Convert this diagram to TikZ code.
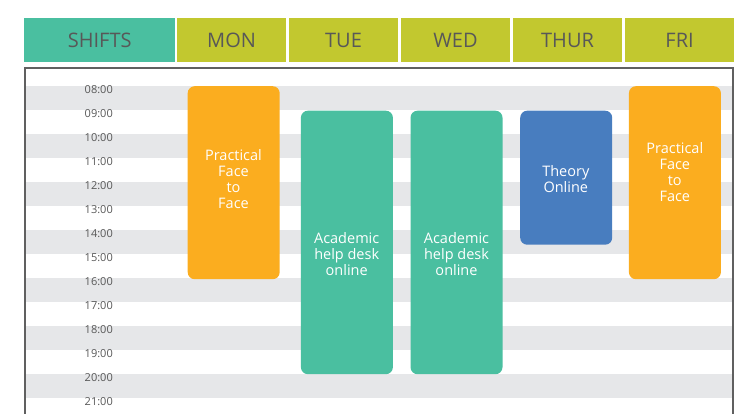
\documentclass[tikz,border=0pt]{standalone}
\usepackage{fontspec}
\setmainfont{Open Sans}
\definecolor{teal}{HTML}{4ABFA0}
\definecolor{lime}{HTML}{C2C82F}
\definecolor{orng}{HTML}{FBAD1F}
\definecolor{blu}{HTML}{487DBF}
\definecolor{band}{HTML}{E6E7E9}
\definecolor{txt}{HTML}{585858}
\definecolor{frame}{HTML}{606060}
\tikzset{
  hdr/.style={anchor=north west, inner sep=0pt, minimum height=44pt, text=txt, font=\fontsize{20}{22}\selectfont},
  evt/.style={anchor=north west, inner sep=0pt, rounded corners=7pt, draw=none, minimum width=92pt},
  evtxt/.style={align=center, text=white, inner sep=0pt, font=\fontsize{14.5}{16}\selectfont},
  tlab/.style={anchor=east, inner sep=0pt, text=txt, font=\fontsize{11}{12}\selectfont},
}
\begin{document}
\begin{tikzpicture}[x=1pt,y=-1pt]
\useasboundingbox (0,0) rectangle (746,413);
% header
\node[hdr, fill=teal, minimum width=151pt] (hShifts) at (24,18) {SHIFTS};
\node[hdr, fill=lime, minimum width=108.7pt] (hMon) at (177,18) {MON};
\node[hdr, fill=lime, minimum width=108.7pt] (hTue) at (289,18) {TUE};
\node[hdr, fill=lime, minimum width=108.7pt] (hWed) at (401,18) {WED};
\node[hdr, fill=lime, minimum width=108.7pt] (hThu) at (513,18) {THUR};
\node[hdr, fill=lime, minimum width=108.7pt] (hFri) at (625,18) {FRI};
% bands
\foreach \k in {0,...,6} {
  \fill[band] (26,{86+48*\k}) rectangle (732,{110+48*\k});
}
% frame
\draw[frame, line width=2pt] (25,430) -- (25,68) -- (733,68) -- (733,430);
% time labels
\foreach \h [count=\i from 0] in {08,09,10,11,12,13,14,15,16,17,18,19,20,21} {
  \node[tlab] (t\h) at (113,{90+24*\i}) {\h:00};
}
% events
\node[evt, fill=orng, minimum height=193pt] (mon) at (187.5,86) {};
\node[evt, fill=teal, minimum height=263.5pt] (tue) at (300.7,110.5) {};
\node[evt, fill=teal, minimum height=263.5pt] (wed) at (410.3,110.5) {};
\node[evt, fill=blu, minimum height=134pt] (thu) at (520,110.5) {};
\node[evt, fill=orng, minimum height=193pt] (fri) at (628.7,86) {};
\node[evtxt] (monT) at (233.5,179) {Practical\\Face\\to\\Face};
\node[evtxt] (tueT) at (346.7,254) {Academic\\help desk\\online};
\node[evtxt] (wedT) at (456.5,254) {Academic\\help desk\\online};
\node[evtxt] (thuT) at (565.8,179.5) {Theory\\Online};
\node[evtxt] (friT) at (674.8,172) {Practical\\Face\\to\\Face};
\end{tikzpicture}
\end{document}
